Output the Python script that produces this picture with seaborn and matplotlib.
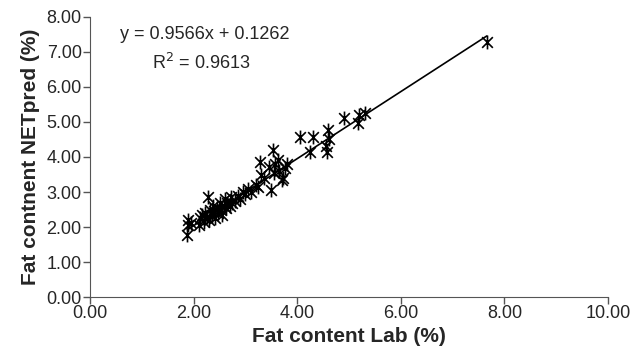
import matplotlib
matplotlib.use("Agg")
import numpy as np
import pandas as pd
import matplotlib.pyplot as plt
from matplotlib.path import Path
import seaborn as sns

# fat content measured in the lab vs. predicted by NET (%)
fat_lab = [1.88, 1.90, 1.90, 1.95, 2.10, 2.12, 2.16, 2.20, 2.22, 2.25, 2.28, 2.30,
           2.32, 2.35, 2.38, 2.40, 2.42, 2.45, 2.48, 2.50, 2.52, 2.55, 2.58, 2.60,
           2.62, 2.65, 2.70, 2.72, 2.75, 2.80, 2.85, 2.90, 2.95, 3.00, 3.05, 3.10,
           3.20, 3.24, 3.28, 3.30, 3.35, 3.45, 3.50, 3.53, 3.55, 3.58, 3.62, 3.65,
           3.70, 3.72, 3.76, 3.80, 4.05, 4.25, 4.30, 4.55, 4.58, 4.60, 4.62, 4.90,
           5.17, 5.20, 5.30, 7.66]
fat_pred = [1.78, 2.05, 2.20, 2.12, 2.05, 2.25, 2.34, 2.15, 2.40, 2.30, 2.86, 2.20,
            2.50, 2.35, 2.60, 2.45, 2.25, 2.55, 2.40, 2.70, 2.50, 2.35, 2.60, 2.80,
            2.55, 2.70, 2.60, 2.85, 2.70, 2.75, 2.90, 2.80, 3.00, 2.95, 3.10, 3.00,
            3.20, 3.14, 3.86, 3.50, 3.40, 3.70, 3.06, 4.20, 3.55, 3.80, 3.90, 3.60,
            3.34, 3.40, 3.69, 3.80, 4.57, 4.14, 4.57, 4.30, 4.14, 4.77, 4.50, 5.10,
            4.97, 5.20, 5.25, 7.29]

slope = 0.9566
intercept = 0.1262
r2 = 0.9613

x_ticks = [0, 2, 4, 6, 8, 10]
y_ticks = [0, 1, 2, 3, 4, 5, 6, 7, 8]

df = pd.DataFrame({"lab": fat_lab, "pred": fat_pred})

sns.set_style("ticks")
plt.rcParams["font.family"] = ["Liberation Sans", "DejaVu Sans"]

# Excel-style star marker: an X with a vertical bar
star = Path([(-1, -1), (1, 1), (-1, 1), (1, -1), (0, -1.3), (0, 1.3)],
            [Path.MOVETO, Path.LINETO, Path.MOVETO, Path.LINETO, Path.MOVETO, Path.LINETO])

fig = plt.figure(figsize=(6.34, 3.58), dpi=100)
ax = fig.add_axes([0.142, 0.170, 0.817, 0.783])

sns.scatterplot(data=df, x="lab", y="pred", marker=star, s=100, color="black",
                edgecolor="black", linewidth=1.2, ax=ax, zorder=3)

line_x = np.array([min(fat_lab), max(fat_lab)])
sns.lineplot(x=line_x, y=slope * line_x + intercept, color="black", linewidth=1.2, ax=ax)

ax.set_xlim(0, 10)
ax.set_ylim(0, 8)
ax.set_xticks(x_ticks)
ax.set_yticks(y_ticks)
ax.set_xticklabels([f"{t:.2f}" for t in x_ticks], fontsize=13)
ax.set_yticklabels([f"{t:.2f}" for t in y_ticks], fontsize=13)
ax.tick_params(direction="out", length=5, width=1, color="#555555", pad=1)
for side in ["left", "bottom"]:
    ax.spines[side].set_color("#555555")
sns.despine(ax=ax)

ax.set_xlabel("Fat content Lab (%)", fontsize=15, fontweight="bold", labelpad=3)
ax.set_ylabel("Fat contnent NETpred (%)", fontsize=15, fontweight="bold", labelpad=5)

ax.text(0.58, 7.49, f"y = {slope}x + {intercept}", fontsize=13, ha="left", va="center")
ax.text(2.15, 6.69, f"R$^2$ = {r2}", fontsize=13, ha="center", va="center")

fig.savefig("out.png", dpi=100)
